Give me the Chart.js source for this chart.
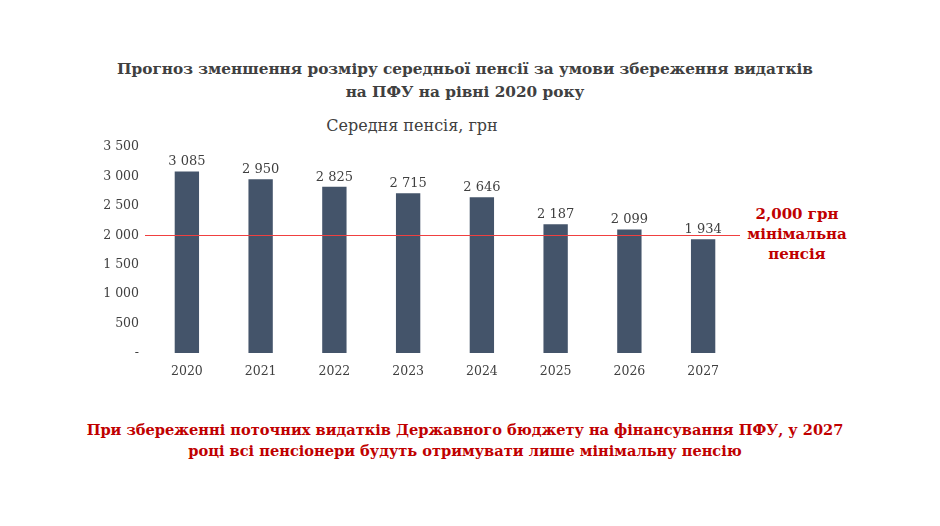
<!DOCTYPE html>
<html><head><meta charset="utf-8">
<script src="https://cdn.jsdelivr.net/npm/chart.js@4"></script>
<style>
body{margin:0;width:940px;height:526px;background:#fff;position:relative;font-family:"DejaVu Serif",serif;overflow:hidden}
.t{position:absolute;left:0;width:930px;text-align:center;font-weight:bold;font-size:15.3px;color:#404040;line-height:23px;top:58px}
.sub{position:absolute;left:262px;width:300px;text-align:center;font-size:16px;color:#404040;top:116px}
.ann{position:absolute;left:737px;width:120px;text-align:center;font-weight:bold;font-size:15px;color:#c00000;line-height:20px;top:204px}
.bot{position:absolute;left:0;width:930px;text-align:center;font-weight:bold;font-size:14.6px;color:#c00000;line-height:21px;top:419px}
#wrap{position:absolute;left:70px;top:132px;width:670px;height:250px}
</style></head><body>
<div class="t">Прогноз зменшення розміру середньої пенсії за умови збереження видатків<br>на ПФУ на рівні 2020 року</div>
<div class="sub">Середня пенсія, грн</div>
<div class="ann">2,000 грн<br>мінімальна<br>пенсія</div>
<div class="bot">При збереженні поточних видатків Державного бюджету на фінансування ПФУ, у 2027<br>році всі пенсіонери будуть отримувати лише мінімальну пенсію</div>
<div id="wrap"><canvas id="c"></canvas></div>
<script>
const years = ['2020','2021','2022','2023','2024','2025','2026','2027'];
const pension = [3085, 2950, 2825, 2715, 2646, 2187, 2099, 1934];
const minPension = 2000;

const fmt = v => v === 0 ? '-' : String(v).replace(/\B(?=(\d{3})+(?!\d))/g, ' ');

const extras = {
  id: 'extras',
  afterDatasetsDraw(chart) {
    const {ctx, chartArea, scales} = chart;
    const y = Math.round(scales.y.getPixelForValue(minPension)) + 0.5;
    ctx.save();
    ctx.strokeStyle = '#f04040';
    ctx.lineWidth = 1;
    ctx.beginPath();
    ctx.moveTo(chartArea.left - 5, y);
    ctx.lineTo(chartArea.right + 2, y);
    ctx.stroke();
    ctx.fillStyle = '#404040';
    ctx.font = '13px "DejaVu Serif"';
    ctx.textAlign = 'center';
    const meta = chart.getDatasetMeta(0);
    meta.data.forEach((b, i) => ctx.fillText(fmt(pension[i]), b.x, b.y - 6));
    ctx.restore();
  }
};

new Chart(document.getElementById('c'), {
  type: 'bar',
  data: {
    labels: years,
    datasets: [{
      data: pension,
      backgroundColor: '#44546a',
      barPercentage: 0.33,
      categoryPercentage: 1
    }]
  },
  options: {
    responsive: true,
    maintainAspectRatio: false,
    animation: false,
    layout: {padding: {top: 15, left: 0}},
    plugins: {legend: {display: false}, tooltip: {enabled: false}},
    scales: {
      x: {
        grid: {display: false}, border: {display: false},
        ticks: {color: '#404040', font: {family: 'DejaVu Serif', size: 12.5}}
      },
      y: {
        min: 0, max: 3500,
        afterFit(s) { s.width = 80; },
        grid: {display: false}, border: {display: false},
        ticks: {stepSize: 500, color: '#404040', font: {family: 'DejaVu Serif', size: 12.5}, callback: fmt}
      }
    }
  },
  plugins: [extras]
});
</script>
</body></html>
